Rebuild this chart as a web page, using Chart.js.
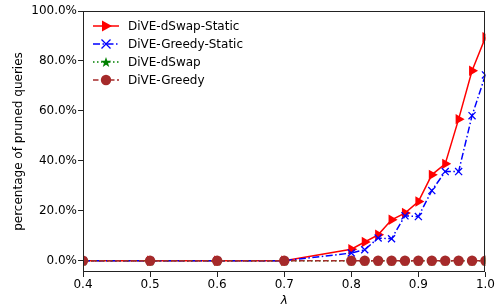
<!DOCTYPE html>
<html>
<head>
<meta charset="utf-8">
<script src="https://cdn.jsdelivr.net/npm/chart.js@4"></script>
<style>
  html, body { margin: 0; padding: 0; background: #fff; }
  #wrap { width: 496px; height: 308px; }
</style>
</head>
<body>
<div id="wrap"><canvas id="chart" width="496" height="308"></canvas></div>
<script>
// lambda values
const lambdas = [0.4, 0.5, 0.6, 0.7, 0.8, 0.82, 0.84, 0.86, 0.88, 0.9, 0.92, 0.94, 0.96, 0.98, 1.0];
// percentage of pruned queries, per method
const dswapStatic  = [0, 0, 0, 0, 4.6, 7.5, 10.4, 16.4, 19.1, 23.7, 34.4, 38.8, 56.7, 76.1, 89.5];
const greedyStatic = [0, 0, 0, 0, 3.1, 4.4, 9.1, 8.8, 18.0, 17.7, 28.1, 35.7, 35.7, 58.1, 74.4];
const dswap        = [0, 0, 0, 0, 0, 0, 0, 0, 0, 0, 0, 0, 0, 0, 0];
const greedy       = [0, 0, 0, 0, 0, 0, 0, 0, 0, 0, 0, 0, 0, 0, 0];
const seriesNames = ['DiVE-dSwap-Static', 'DiVE-Greedy-Static', 'DiVE-dSwap', 'DiVE-Greedy'];
const xTicks = [0.4, 0.5, 0.6, 0.7, 0.8, 0.9, 1.0];
const yTicks = [0, 20, 40, 60, 80, 100];

const FONT = 'DejaVu Sans';

//filled five point star, used as point style
function starPath(ctx, cx, cy, r){
    ctx.beginPath();
    for (let i = 0; i < 10; i++){
        let rr = i % 2 === 0 ? r : r * 0.4;
        let a = -Math.PI / 2 + i * Math.PI / 5;
        let px = cx + rr * Math.cos(a), py = cy + rr * Math.sin(a);
        if (i === 0) ctx.moveTo(px, py); else ctx.lineTo(px, py);
    }
    ctx.closePath();
}
const starImg = document.createElement('canvas');
starImg.width = 12; starImg.height = 12;
(function(){
    let c = starImg.getContext('2d');
    c.fillStyle = '#008000';
    starPath(c, 6, 6.5, 5.5);
    c.fill();
})();

function toPoints(values){
    return lambdas.map((x, i) => ({x: x, y: values[i]}));
}

// box around the plot + legend in top left corner
const framePlugin = {
    id: 'frame',
    afterDraw(chart){
        const ctx = chart.ctx, a = chart.chartArea;
        ctx.save();
        ctx.strokeStyle = '#222';
        ctx.lineWidth = 1;
        ctx.strokeRect(Math.round(a.left) + 0.5, Math.round(a.top) + 0.5,
            Math.round(a.right - a.left) - 1, Math.round(a.bottom - a.top) - 1);

        // legend
        const x0 = 93, x1 = 119, mx = 106, tx = 128;
        const rows = [26, 44, 62, 80];
        ctx.font = '12px "' + FONT + '"';
        ctx.textBaseline = 'middle';
        ctx.fillStyle = '#000';
        rows.forEach((y, i) => {
            const ds = chart.data.datasets[i];
            ctx.save();
            ctx.strokeStyle = ds.borderColor;
            ctx.lineWidth = 1.5;
            ctx.setLineDash(ds.borderDash || []);
            ctx.beginPath(); ctx.moveTo(x0, y); ctx.lineTo(x1, y); ctx.stroke();
            ctx.setLineDash([]);
            ctx.fillStyle = ds.borderColor;
            if (i === 0){
                ctx.beginPath();
                ctx.moveTo(mx + 6, y); ctx.lineTo(mx - 4, y - 5.5); ctx.lineTo(mx - 4, y + 5.5);
                ctx.closePath(); ctx.fill();
            } else if (i === 1){
                ctx.lineWidth = 1.3;
                ctx.beginPath();
                ctx.moveTo(mx - 4.5, y - 4.5); ctx.lineTo(mx + 4.5, y + 4.5);
                ctx.moveTo(mx - 4.5, y + 4.5); ctx.lineTo(mx + 4.5, y - 4.5);
                ctx.stroke();
            } else if (i === 2){
                starPath(ctx, mx, y + 0.5, 5.5); ctx.fill();
            } else {
                ctx.beginPath(); ctx.arc(mx, y, 5.2, 0, Math.PI * 2); ctx.fill();
            }
            ctx.restore();
            ctx.fillText(seriesNames[i], tx, y + 1);
        });
        ctx.restore();
    }
};

const config = {
    type: 'line',
    data: {
        datasets: [
            {
                label: seriesNames[0], data: toPoints(dswapStatic),
                borderColor: '#ff0000', backgroundColor: '#ff0000', borderWidth: 1.5,
                pointStyle: 'triangle', rotation: 90, pointRadius: 6, pointBorderWidth: 0,
                order: 4
            },
            {
                label: seriesNames[1], data: toPoints(greedyStatic),
                borderColor: '#0000ff', backgroundColor: '#0000ff', borderWidth: 1.5,
                borderDash: [7, 2.5, 1.5, 2.5],
                pointStyle: 'crossRot', pointRadius: 5, pointBorderWidth: 1.3,
                order: 3
            },
            {
                label: seriesNames[2], data: toPoints(dswap),
                borderColor: '#008000', backgroundColor: '#008000', borderWidth: 1.5,
                borderDash: [1.5, 2.5],
                pointStyle: starImg, pointRadius: 6,
                order: 2
            },
            {
                label: seriesNames[3], data: toPoints(greedy),
                borderColor: '#a52a2a', backgroundColor: '#a52a2a', borderWidth: 1.5,
                borderDash: [5.5, 2.5],
                pointStyle: 'circle', pointRadius: 5.2, pointBorderWidth: 0,
                order: 1
            }
        ]
    },
    options: {
        responsive: false,
        animation: false,
        layout: { padding: { top: 11, right: 9, left: 0, bottom: 0 } },
        elements: { line: { tension: 0, fill: false } },
        datasets: { line: { clip: 0 } },
        plugins: { legend: { display: false }, tooltip: { enabled: false } },
        scales: {
            x: {
                type: 'linear', min: 0.4, max: 1.0,
                afterBuildTicks: s => { s.ticks = xTicks.map(v => ({value: v})); },
                afterFit: s => { s.height = 36; },
                grid: { drawOnChartArea: false, tickLength: 5, tickColor: '#222', tickWidth: 1 },
                border: { display: false },
                ticks: { color: '#000', padding: 1, maxRotation: 0, autoSkip: false,
                    font: { family: FONT, size: 12 },
                    callback: v => Number(v).toFixed(1) },
                title: { display: true, text: 'λ', color: '#000', padding: { top: 0, bottom: 0 },
                    font: { family: FONT, size: 12, style: 'italic' } }
            },
            y: {
                type: 'linear', min: -4.5, max: 100,
                afterBuildTicks: s => { s.ticks = yTicks.map(v => ({value: v})); },
                afterFit: s => { s.width = 83; },
                grid: { drawOnChartArea: false, tickLength: 5, tickColor: '#222', tickWidth: 1 },
                border: { display: false },
                ticks: { color: '#000', padding: 1, autoSkip: false,
                    font: { family: FONT, size: 12 },
                    callback: v => Number(v).toFixed(1) + '%' },
                title: { display: true, text: 'percentage of pruned queries', color: '#000',
                    padding: { top: 12, bottom: 0 },
                    font: { family: FONT, size: 12 } }
            }
        }
    },
    plugins: [framePlugin]
};

new Chart(document.getElementById('chart'), config);
</script>
</body>
</html>
